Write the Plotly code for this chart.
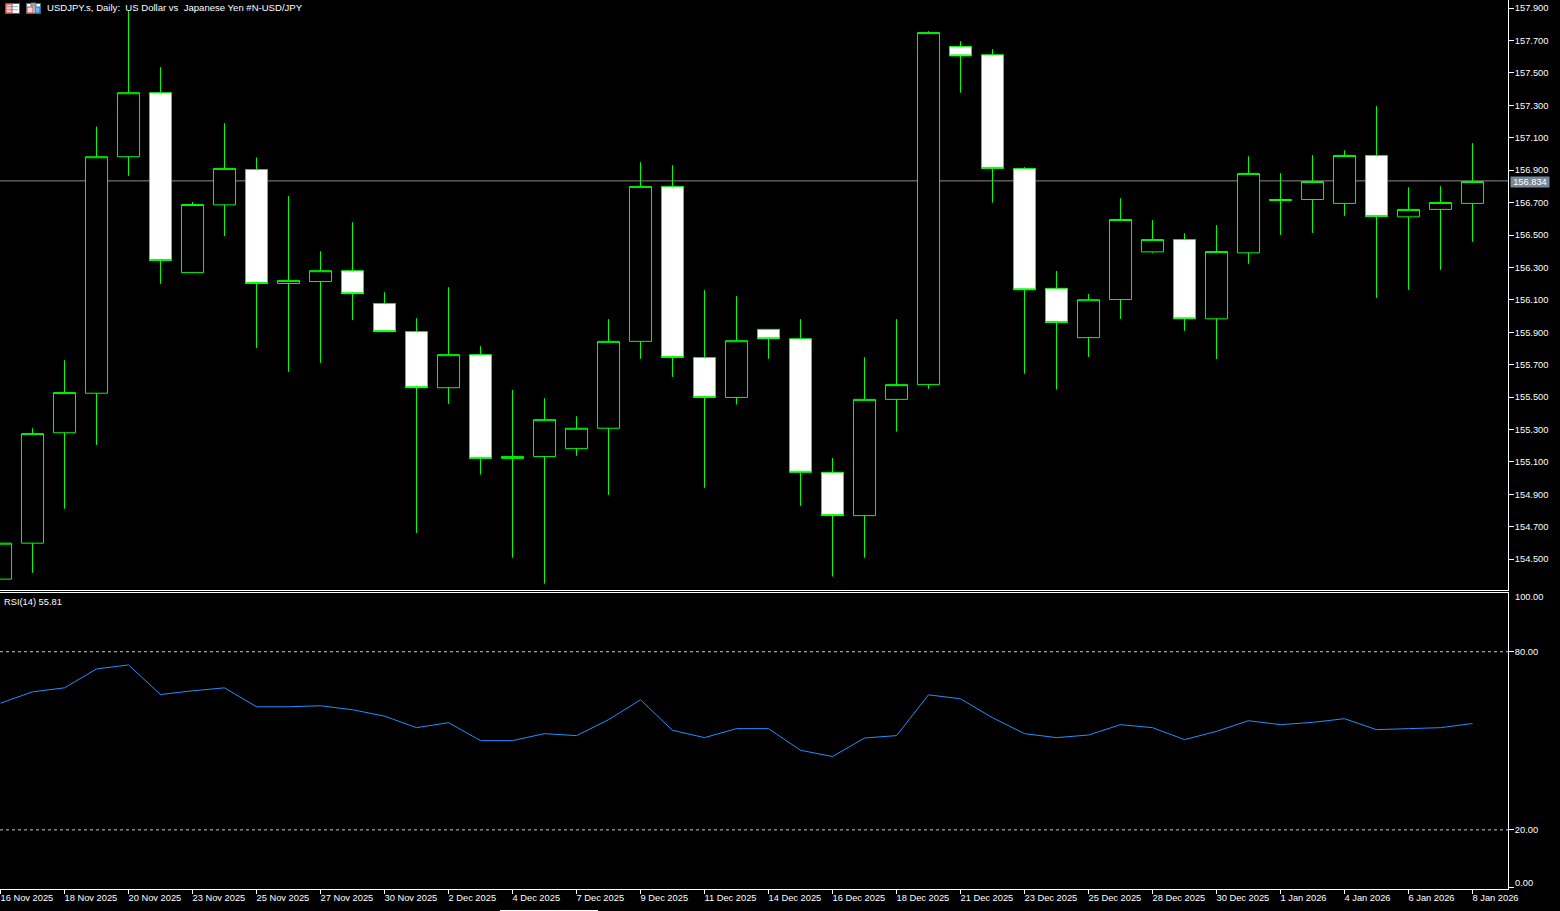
import plotly.graph_objects as go

dates = ["16 Nov 2025","17 Nov 2025","18 Nov 2025","19 Nov 2025","20 Nov 2025","21 Nov 2025","23 Nov 2025","24 Nov 2025",
         "25 Nov 2025","26 Nov 2025","27 Nov 2025","28 Nov 2025","30 Nov 2025","1 Dec 2025","2 Dec 2025","3 Dec 2025",
         "4 Dec 2025","5 Dec 2025","7 Dec 2025","8 Dec 2025","9 Dec 2025","10 Dec 2025","11 Dec 2025","12 Dec 2025",
         "14 Dec 2025","15 Dec 2025","16 Dec 2025","17 Dec 2025","18 Dec 2025","19 Dec 2025","21 Dec 2025","22 Dec 2025",
         "23 Dec 2025","24 Dec 2025","25 Dec 2025","26 Dec 2025","28 Dec 2025","29 Dec 2025","30 Dec 2025","31 Dec 2025",
         "1 Jan 2026","2 Jan 2026","4 Jan 2026","5 Jan 2026","6 Jan 2026","7 Jan 2026","8 Jan 2026"]
opens = [154.377,154.599,155.280,155.524,156.983,157.378,156.268,156.686,156.904,156.201,156.213,156.280,
         156.078,155.904,155.558,155.762,155.122,155.133,155.182,155.308,155.844,156.800,155.744,155.498,
         155.918,155.860,155.036,154.769,155.486,155.577,157.663,157.612,156.911,156.171,155.867,156.102,
         156.396,156.472,155.983,156.390,156.713,156.719,156.695,156.991,156.612,156.658,156.695]
highs = [154.599,155.308,155.728,157.169,157.884,157.536,156.703,157.190,156.978,156.740,156.400,156.579,
         156.147,155.987,156.178,155.814,155.544,155.493,155.382,155.981,156.949,156.931,156.160,156.123,
         155.918,155.981,155.124,155.746,155.981,157.758,157.696,157.647,156.919,156.278,156.136,156.727,
         156.592,156.511,156.561,156.986,156.882,156.993,157.023,157.295,156.795,156.801,157.067]
lows = [154.377,154.416,154.811,155.205,156.865,156.199,156.268,156.493,155.804,155.656,155.711,155.976,
        155.904,154.662,155.458,155.022,154.509,154.349,155.138,154.897,155.737,155.625,154.940,155.454,
        155.737,154.829,154.393,154.509,155.287,155.551,157.378,156.700,155.644,155.546,155.748,155.983,
        156.390,155.909,155.736,156.322,156.501,156.513,156.618,156.112,156.162,156.285,156.458]
closes = [154.599,155.275,155.528,156.983,157.378,156.343,156.688,156.911,156.201,156.220,156.280,156.138,
          155.904,155.558,155.762,155.122,155.133,155.361,155.308,155.844,156.800,155.744,155.498,155.848,
          155.860,155.036,154.769,155.486,155.577,157.749,157.605,156.911,156.162,155.960,156.101,156.596,
          156.472,155.983,156.398,156.880,156.719,156.830,156.991,156.614,156.658,156.701,156.830]
rsi = [62.67,66.49,67.83,74.20,75.54,65.59,66.83,67.83,61.46,61.46,61.80,60.46,58.31,54.42,56.10,50.06,50.06,
       52.41,51.74,57.10,63.81,53.52,51.07,54.09,54.09,46.81,44.70,50.94,51.74,65.48,64.14,57.77,52.41,51.07,
       51.94,55.43,54.42,50.40,53.18,56.77,55.43,56.20,57.44,53.75,54.09,54.42,55.81]
price_ticks = [157.9,157.7,157.5,157.3,157.1,156.9,156.7,156.5,156.3,156.1,155.9,155.7,155.5,155.3,155.1,154.9,154.7,154.5]
rsi_ticks = [80,20,0.5]
rsi_levels = [80,20]
last_price = 156.834
title_text = "USDJPY.s, Daily:  US Dollar vs  Japanese Yen #N-USD/JPY"
rsi_title = "RSI(14) 55.81"

W, H, PW, PH = 1560, 911, 1508, 889
FONT = "Liberation Sans"
FS = 9.3
X0 = -0.5 / 32
def px(x): return x / PW
def py(y): return 1 - y / PH

GREEN = "#00ff00"
fig = go.Figure()
fig.add_trace(go.Candlestick(
    x=dates, open=opens, high=highs, low=lows, close=closes, xaxis="x", yaxis="y",
    increasing=dict(line=dict(color=GREEN, width=1), fillcolor="#000000"),
    decreasing=dict(line=dict(color=GREEN, width=1), fillcolor="#ffffff"),
    whiskerwidth=0, showlegend=False))
fig.add_trace(go.Scatter(x=dates, y=rsi, xaxis="x2", yaxis="y2", mode="lines",
                         line=dict(color="#1e90ff", width=1), showlegend=False))

shapes = [dict(type="line", xref="paper", x0=0, x1=1, yref="y", y0=last_price, y1=last_price,
               line=dict(color="#8a8a8a", width=1), layer="below")]
for lv in rsi_levels:
    shapes.append(dict(type="line", xref="paper", x0=0, x1=1, yref="y2", y0=lv, y1=lv,
                       line=dict(color="#c8c8c8", width=1, dash="3px,3px"), layer="below"))

def rect(x0, y0, x1, y1, fill, line=None):
    shapes.append(dict(type="rect", xref="paper", yref="paper", x0=px(x0), x1=px(x1), y0=py(y0), y1=py(y1),
                       fillcolor=fill, line=dict(width=1 if line else 0, color=line or fill)))
# window-style icons in the chart's title bar and the strip at the bottom edge
rect(5.5, 3.5, 19.5, 13.5, "#ffffff", "#2a6fa8")
rect(6, 4, 12, 13, "#f4c8c0", "#d84030")
for yy in (6.5, 9.5):
    rect(7, yy, 18, yy + 0.6, "#3a7ab8")
rect(26.5, 3.5, 40.5, 13.5, "#ffffff", "#2a6fa8")
rect(27, 7, 33, 13, "#f8d8d0", "#d84030")
rect(31, 3, 36, 6, "#b0b0b0", "#707070")
rect(35, 7, 40, 13, "#68b8e8", "#2a6fa8")
rect(500, 910, 598, 911, "#ffffff")

common_font = dict(family=FONT, size=FS, color="#ffffff")
def note(x, y, text, size=FS, **kw):
    return dict(xref="paper", yref="paper", x=px(x), y=py(y), text=text, showarrow=False,
                xanchor="left", yanchor="middle", font=dict(family=FONT, size=size, color="#ffffff"), **kw)
annotations = [
    note(45, 8, title_text, size=9.55),
    note(2, 601.5, rsi_title),
    note(1513, 597, "100.00"),
    note(1513, 883, "0.00"),
    note(1510, 181.5, f"{last_price:.3f}", bgcolor="#778899", borderpad=0, width=38, height=10, align="center"),
]

fig.update_layout(
    width=W, height=H, autosize=False,
    margin=dict(l=0, r=W - PW, t=0, b=H - PH, pad=0),
    paper_bgcolor="#000000", plot_bgcolor="#000000",
    font=common_font, boxmode="overlay", boxgap=0.31, boxgroupgap=0, showlegend=False, hovermode=False,
    shapes=shapes, annotations=annotations,
    xaxis=dict(domain=[0, 1], anchor="y", type="category", categoryorder="array", categoryarray=dates,
               range=[X0, X0 + PW / 32], rangeslider=dict(visible=False), showgrid=False, zeroline=False,
               showticklabels=False, ticks="", showline=True, linecolor="#ffffff", linewidth=1),
    yaxis=dict(domain=[py(590), 1], anchor="x", side="right", range=[154.31, 157.95], tickmode="array",
               tickvals=price_ticks, ticktext=[f"{v:.3f}" for v in price_ticks], ticks="outside", ticklen=5,
               tickcolor="#ffffff", showgrid=False, zeroline=False, showline=True, linecolor="#ffffff",
               linewidth=1, tickfont=common_font, ticklabelstandoff=-1),
    xaxis2=dict(domain=[0, 1], anchor="y2", type="category", categoryorder="array", categoryarray=dates,
                range=[X0, X0 + PW / 32], showgrid=False, zeroline=False, tickmode="array",
                tickvals=dates[::2], ticktext=dates[::2], ticks="outside", ticklen=4, tickcolor="#ffffff",
                tickangle=0, ticklabelposition="outside right", ticklabelshift=-1, showline=True, mirror=True,
                linecolor="#ffffff", linewidth=1, tickfont=common_font),
    yaxis2=dict(domain=[0, py(592.7)], anchor="x2", side="right", range=[0.08, 99.88], tickmode="array",
                tickvals=rsi_ticks, ticktext=["80.00", "20.00", ""], ticks="outside", ticklen=5,
                tickcolor="#ffffff", showgrid=False, zeroline=False, showline=True, linecolor="#ffffff",
                linewidth=1, tickfont=common_font, ticklabelstandoff=-1),
)

fig.write_html("out.html", config={"displayModeBar": False},
               post_script="document.body.style.margin='0';document.body.style.background='#000';document.body.style.overflow='hidden';")
